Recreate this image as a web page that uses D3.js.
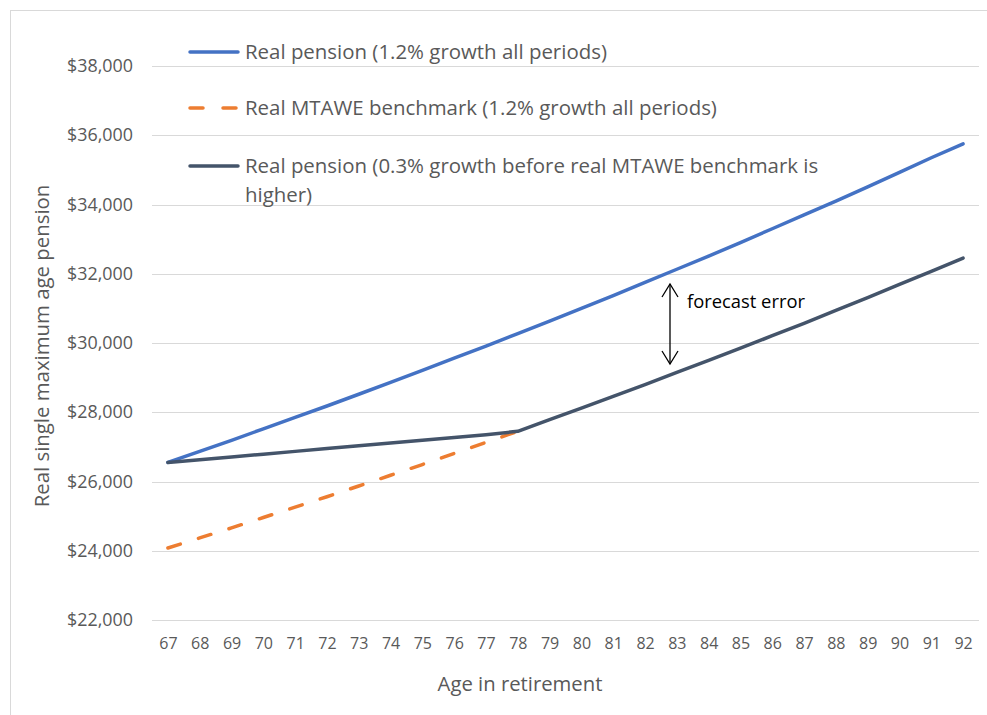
<!DOCTYPE html>
<html>
<head>
<meta charset="utf-8">
<script src="https://cdn.jsdelivr.net/npm/d3@7"></script>
<style>
  html, body { margin: 0; padding: 0; background: #fff; }
  svg { display: block; }
  text { font-family: "Open Sans", Lato, sans-serif; }
</style>
</head>
<body>
<svg id="chart" width="987" height="715"></svg>
<script>
const ages = [67,68,69,70,71,72,73,74,75,76,77,78,79,80,81,82,83,84,85,86,87,88,89,90,91,92];
const realPension12 = [26550,26870,27190,27520,27850,28180,28520,28860,29210,29560,29910,30270,30630,31000,31370,31750,32130,32510,32900,33300,33700,34100,34510,34930,35350,35750];
const mtaweBenchmark = [24080,24370,24660,24960,25260,25560,25870,26180,26490,26810,27130,27450];
const realPension03 = [26550,26630,26710,26790,26870,26950,27030,27110,27190,27270,27350,27450,27790,28120,28460,28800,29150,29500,29850,30210,30570,30940,31310,31690,32070,32450];
const yTicks = [22000,24000,26000,28000,30000,32000,34000,36000,38000];
const seriesNames = [
  ["Real pension (1.2% growth all periods)"],
  ["Real MTAWE benchmark (1.2% growth all periods)"],
  ["Real pension (0.3% growth before real MTAWE benchmark is", "higher)"]
];
const annotation = "forecast error";
const xTitle = "Age in retirement";
const yTitle = "Real single maximum age pension";

const colors = ["#4472C4", "#ED7D31", "#44546A"];
const svg = d3.select("#chart");

// scale a text's font size so its rendered width matches a target width
function fit(sel, target) {
  const n = sel.node();
  const fs = parseFloat(sel.style("font-size"));
  const w = n.getComputedTextLength();
  if (w > 0) sel.style("font-size", (fs * target / w).toFixed(2) + "px");
  return sel;
}

// frame
svg.append("rect").attr("x", 10.5).attr("y", 10.5).attr("width", 1200).attr("height", 1200)
  .attr("fill", "none").attr("stroke", "#d9d9d9").attr("stroke-width", 1);

const x = d3.scalePoint().domain(ages).range([152, 979]).padding(0.5);
const y = d3.scaleLinear().domain([22000, 38000]).range([620, 66]);

// gridlines
svg.append("g").selectAll("line").data(yTicks).join("line")
  .attr("x1", 152).attr("x2", 979)
  .attr("y1", d => Math.round(y(d)) + 0.5).attr("y2", d => Math.round(y(d)) + 0.5)
  .attr("stroke", "#d9d9d9").attr("stroke-width", 1);

// y axis labels
const yAxis = d3.axisLeft(y).tickValues(yTicks).tickSize(0).tickPadding(0)
  .tickFormat(d => "$" + d3.format(",")(d));
const gy = svg.append("g").attr("transform", "translate(133,0)").call(yAxis);
gy.select(".domain").remove();
gy.selectAll("text").attr("fill", "#595959").style("font-size", "17.5px")
  .style("font-family", "'Open Sans', sans-serif");
fit(gy.select(".tick text"), 66);
const yfs = gy.select(".tick text").style("font-size");
gy.selectAll("text").style("font-size", yfs);

// x axis labels
const xAxis = d3.axisBottom(x).tickSize(0).tickPadding(0);
const gx = svg.append("g").attr("transform", "translate(0,638)").call(xAxis);
gx.select(".domain").remove();
gx.selectAll("text").attr("fill", "#595959").style("font-size", "16px")
  .style("font-family", "'Open Sans', sans-serif");

// axis titles
fit(svg.append("text").attr("x", 520).attr("y", 684).attr("dy", "0.35em")
  .attr("text-anchor", "middle").attr("fill", "#595959").style("font-size", "18px").text(xTitle), 165);
fit(svg.append("text").attr("transform", "translate(42,346) rotate(-90)").attr("dy", "0.35em")
  .attr("text-anchor", "middle").attr("fill", "#595959").style("font-size", "18px").text(yTitle), 323);

// lines
const line = d3.line().x(d => x(d[0])).y(d => y(d[1]));
const s1 = ages.map((a, i) => [a, realPension12[i]]);
const s2 = mtaweBenchmark.map((v, i) => [ages[i], v]);
const s3 = ages.map((a, i) => [a, realPension03[i]]);

svg.append("path").datum(s2).attr("d", line).attr("fill", "none")
  .attr("stroke", colors[1]).attr("stroke-width", 3.5).attr("stroke-linecap", "round")
  .attr("stroke-dasharray", "13,19");
svg.append("path").datum(s1).attr("d", line).attr("fill", "none")
  .attr("stroke", colors[0]).attr("stroke-width", 3.5).attr("stroke-linecap", "round")
  .attr("stroke-linejoin", "round");
svg.append("path").datum(s3).attr("d", line).attr("fill", "none")
  .attr("stroke", colors[2]).attr("stroke-width", 3.5).attr("stroke-linecap", "round")
  .attr("stroke-linejoin", "round");

// legend
const legY = [52, 108, 166];
let legFont = null;
seriesNames.forEach((lines, i) => {
  const g = svg.append("g");
  g.append("line").attr("x1", 190).attr("x2", 238).attr("y1", legY[i]).attr("y2", legY[i])
    .attr("stroke", colors[i]).attr("stroke-width", 3.5).attr("stroke-linecap", "round")
    .attr("stroke-dasharray", i === 1 ? "13,20" : null);
  lines.forEach((t, j) => {
    const tx = g.append("text").attr("x", 245).attr("y", legY[i] + j * 29).attr("dy", "0.35em")
      .attr("fill", "#595959").style("font-size", "18px").text(t);
    if (i === 0 && j === 0) { fit(tx, 362); legFont = tx.style("font-size"); }
    else tx.style("font-size", legFont);
  });
});

// annotation arrow
const ax = 670, ay1 = 284, ay2 = 364;
svg.append("line").attr("x1", ax).attr("x2", ax).attr("y1", ay1).attr("y2", ay2)
  .attr("stroke", "#000").attr("stroke-width", 1.3);
svg.append("path").attr("d", `M${ax-8},${ay1+13} L${ax},${ay1} L${ax+8},${ay1+13}`)
  .attr("fill", "none").attr("stroke", "#000").attr("stroke-width", 1.3);
svg.append("path").attr("d", `M${ax-8},${ay2-13} L${ax},${ay2} L${ax+8},${ay2-13}`)
  .attr("fill", "none").attr("stroke", "#000").attr("stroke-width", 1.3);
fit(svg.append("text").attr("x", 687).attr("y", 302).attr("dy", "0.35em")
  .attr("fill", "#000").style("font-size", "16px").text(annotation), 118);
</script>
</body>
</html>
